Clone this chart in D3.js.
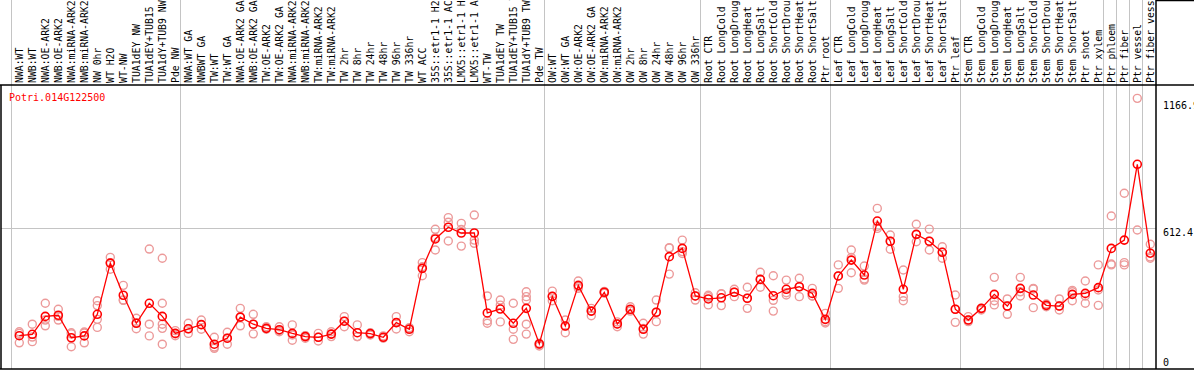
<!DOCTYPE html>
<html>
<head>
<meta charset="utf-8">
<script src="https://cdn.jsdelivr.net/npm/d3@7"></script>
<style>
  html, body { margin: 0; padding: 0; background: #fff; }
  svg { display: block; }
  text { font-family: "DejaVu Sans Mono", "Liberation Mono", monospace; }
</style>
</head>
<body>
<div id="chart"></div>
<script>
// sample labels, left to right
const categories = [
  "NWA:WT", "NWB:WT", "NWA:OE-ARK2", "NWB:OE-ARK2", "NWA:miRNA-ARK2", "NWB:miRNA-ARK2",
  "NW 0hr", "WT H2O", "WT-NW", "TUA1dEY NW", "TUA1dEY+TUB15 NW", "TUA1dY+TUB9 NW", "Pde NW",
  "NWA:WT GA", "NWBWT GA", "TW:WT", "TW:WT GA", "NWA:OE-ARK2 GA", "NWB:OE-ARK2 GA",
  "TW:OE-ARK2", "TW:OE-ARK2 GA", "NWA:miRNA-ARK2 GA", "NWB:miRNA-ARK2 GA", "TW:miRNA-ARK2",
  "TW:miRNA-ARK2", "TW 2hr", "TW 8hr", "TW 24hr", "TW 48hr", "TW 96hr", "TW 336hr", "WT ACC",
  "35S::etr1-1 H2O", "35S::etr1-1 ACC", "LMX5::etr1-1 H2O", "LMX5::etr1-1 ACC", "WT-TW",
  "TUA1dEY TW", "TUA1dEY+TUB15 TW", "TUA1dY+TUB9 TW", "Pde TW",
  "OW:WT", "OW:WT GA", "OW:OE-ARK2", "OW:OE-ARK2 GA", "OW:miRNA-ARK2", "OW:miRNA-ARK2",
  "OW 2hr", "OW 8hr", "OW 24hr", "OW 48hr", "OW 96hr", "OW 336hr",
  "Root CTR", "Root LongCold", "Root LongDrought", "Root LongHeat", "Root LongSalt",
  "Root ShortCold", "Root ShortDrought", "Root ShortHeat", "Root ShortSalt", "Ptr root",
  "Leaf CTR", "Leaf LongCold", "Leaf LongDrought", "Leaf LongHeat", "Leaf LongSalt",
  "Leaf ShortCold", "Leaf ShortDrought", "Leaf ShortHeat", "Leaf ShortSalt", "Ptr leaf",
  "Stem CTR", "Stem LongCold", "Stem LongDrought", "Stem LongHeat", "Stem LongSalt",
  "Stem ShortCold", "Stem ShortDrought", "Stem ShortHeat", "Stem ShortSalt", "Ptr shoot", "Ptr xylem",
  "Ptr phloem", "Ptr fiber", "Ptr vessel", "Ptr fiber vessel"
];

// index of first sample in each experiment block (vertical separators)
const groupStarts = [0, 13, 41, 53, 63, 73, 84, 85, 86, 87];

// mean expression per sample
const means = [
  145, 151, 229, 234, 136, 144, 238, 461, 321, 199, 286, 229, 155,
  175, 193, 108, 134, 226, 195, 177, 171, 155, 141, 138, 152, 208, 158, 154, 138, 202, 173,
  438, 566, 617, 592, 592, 244, 261, 199, 264, 109,
  316, 187, 364, 252, 334, 196, 260, 173, 247, 489, 525, 318,
  305, 310, 334, 308, 390, 319, 347, 358, 329, 216,
  405, 474, 409, 644, 556, 347, 586, 556, 508, 260,
  213, 264, 325, 274, 351, 322, 277, 274, 325, 329, 354,
  525, 561, 891, 504
];

// individual replicates per sample
const replicates = [
  [162, 155, 114], [195, 139, 119], [286, 213, 188], [260, 229, 213], [158, 153, 97],
  [161, 157, 114], [297, 276, 216, 181], [486, 463, 434], [364, 300, 299], [221, 201, 175],
  [522, 195, 144], [482, 286, 195, 177, 108], [167, 153, 145],
  [199, 175, 155], [213, 193, 173], [138, 96, 90], [160, 134, 108], [264, 226, 188],
  [238, 195, 153], [184, 177, 173], [184, 167, 162], [192, 148, 125], [144, 145, 134],
  [155, 138, 122], [162, 152, 141], [228, 208, 184], [192, 141, 141], [158, 154, 148],
  [144, 138, 134], [228, 202, 174], [180, 177, 162], [463, 445, 406], [608, 572, 518],
  [659, 639, 557], [634, 607, 535], [670, 561, 547], [318, 210, 199], [300, 278, 205],
  [286, 173, 129], [336, 315, 300, 195, 152], [112, 106, 100],
  [339, 316, 297], [213, 187, 158], [383, 358, 351], [264, 252, 232], [338, 334, 330],
  [205, 196, 184], [271, 257, 252], [199, 176, 152], [300, 247, 206], [528, 526, 413],
  [561, 511, 503], [332, 318, 300],
  [321, 315, 279], [328, 326, 276], [347, 334, 315], [356, 308, 264], [421, 390, 356],
  [406, 299, 252], [387, 332, 322], [395, 358, 315], [351, 318, 318], [242, 206, 200],
  [453, 405, 351], [518, 485, 419], [448, 392, 387], [699, 621, 612], [583, 556, 521],
  [431, 315, 297], [630, 586, 554], [609, 556, 518], [532, 508, 482], [322, 260, 203],
  [228, 213, 206], [264, 261, 257], [399, 297, 279], [305, 274, 238], [399, 336, 318],
  [351, 348, 267], [283, 277, 271], [305, 274, 257], [342, 336, 297], [383, 318, 286],
  [453, 344, 277],
  [666, 457, 453], [765, 463, 453], [1178, 605], [543, 488, 482]
];

const yTicks = [0, 612.4, 1166.9];
const yTickLabels = ["0", "612.4", "1166.9"];
const geneName = "Potri.014G122500";

const width = 1194, height = 370;
const plotLeft = 1, plotRight = 1156, headerBottom = 85, plotBottom = 369;

const svg = d3.select("#chart").append("svg")
  .attr("width", width)
  .attr("height", height);

const x = d3.scalePoint()
  .domain(d3.range(categories.length))
  .range([19.3, 1150.3]);

const y = d3.scaleLinear()
  .domain([0, 1166.9])
  .range([plotBottom, 100.9]);

// vertical separators between blocks
svg.append("g")
  .selectAll("line")
  .data(groupStarts)
  .join("line")
  .attr("x1", d => Math.round(x(d) - 8) + 0.5)
  .attr("x2", d => Math.round(x(d) - 8) + 0.5)
  .attr("y1", 0)
  .attr("y2", plotBottom)
  .attr("stroke", "#c4c4c4")
  .attr("stroke-width", 1);

// horizontal grid line at middle tick
svg.append("line")
  .attr("x1", plotLeft).attr("x2", plotRight)
  .attr("y1", Math.round(y(612.4)) + 0.5).attr("y2", Math.round(y(612.4)) + 0.5)
  .attr("stroke", "#c4c4c4");

// frame
const frame = svg.append("g").attr("stroke", "#000").attr("stroke-width", 1.5);
frame.append("line").attr("x1", 0).attr("x2", width).attr("y1", headerBottom).attr("y2", headerBottom);
frame.append("line").attr("x1", 0).attr("x2", width).attr("y1", plotBottom).attr("y2", plotBottom);
frame.append("line").attr("x1", plotLeft).attr("x2", plotLeft).attr("y1", headerBottom).attr("y2", plotBottom);
frame.append("line").attr("x1", plotRight).attr("x2", plotRight).attr("y1", 0).attr("y2", plotBottom);
frame.append("line").attr("x1", plotRight).attr("x2", width).attr("y1", 0.5).attr("y2", 0.5);

// rotated sample labels in header
svg.append("g")
  .selectAll("text")
  .data(categories)
  .join("text")
  .attr("transform", (d, i) => `translate(${x(i)},${headerBottom - 2}) rotate(-90)`)
  .attr("dy", "0.36em")
  .attr("font-size", "9.8px")
  .attr("fill", "#000")
  .text(d => d);

// gene name
svg.append("text")
  .attr("x", 9)
  .attr("y", 101)
  .attr("font-size", "10px")
  .attr("fill", "#ff0000")
  .text(geneName);

// y labels on the right
svg.append("g")
  .selectAll("text")
  .data(yTicks)
  .join("text")
  .attr("x", 1163)
  .attr("y", (d, i) => i === 0 ? 366 : y(d) + 8)
  .attr("font-size", "10px")
  .attr("fill", "#000")
  .text((d, i) => yTickLabels[i]);

// replicate points
const reps = replicates.flatMap((vals, i) => vals.map(v => ({ i, v })));
svg.append("g")
  .selectAll("circle")
  .data(reps)
  .join("circle")
  .attr("cx", d => x(d.i))
  .attr("cy", d => y(d.v))
  .attr("r", 4)
  .attr("fill", "none")
  .attr("stroke", "#ec9a9a")
  .attr("stroke-width", 1.4);

// mean line
svg.append("path")
  .datum(means)
  .attr("d", d3.line().x((d, i) => x(i)).y(d => y(d)))
  .attr("fill", "none")
  .attr("stroke", "#ff0000")
  .attr("stroke-width", 1.3);

// mean points
svg.append("g")
  .selectAll("circle")
  .data(means)
  .join("circle")
  .attr("cx", (d, i) => x(i))
  .attr("cy", d => y(d))
  .attr("r", 4)
  .attr("fill", "none")
  .attr("stroke", "#ff0000")
  .attr("stroke-width", 1.6);
</script>
</body>
</html>
